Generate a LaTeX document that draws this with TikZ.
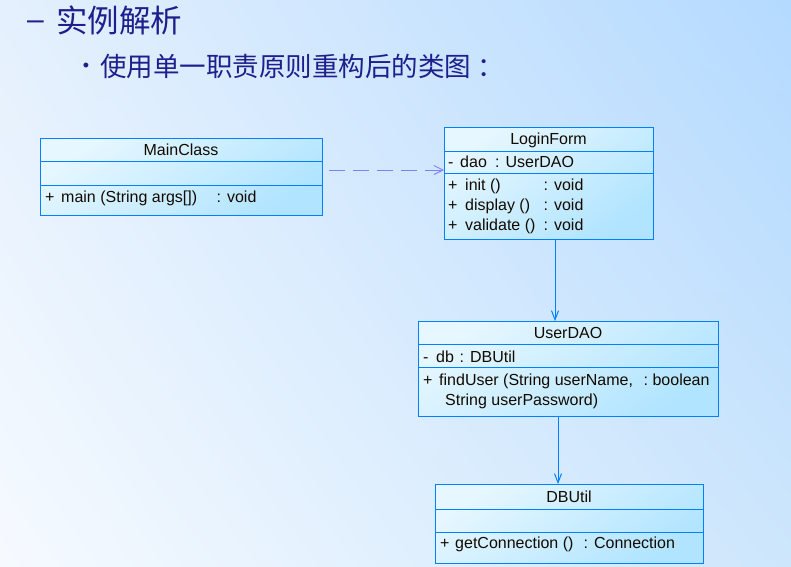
\documentclass[tikz,border=0pt]{standalone}
\usepackage{fontspec}
\setmainfont{Liberation Sans}
\newfontfamily\cjk{Noto Sans CJK SC}
\usetikzlibrary{arrows.meta,shadings}
\definecolor{bordcol}{RGB}{0,128,255}
\definecolor{dashcol}{RGB}{128,128,255}
\definecolor{headcol}{RGB}{30,30,140}
\definecolor{txtcol}{RGB}{20,10,0}
\definecolor{boxtop}{RGB}{230,247,255}
\definecolor{boxbot}{RGB}{176,228,255}
\definecolor{bgul}{RGB}{228,240,253}
\definecolor{bgll}{RGB}{246,250,255}
\definecolor{bgur}{RGB}{180,218,255}
\definecolor{bglr}{RGB}{205,230,252}
\begin{document}
\begin{tikzpicture}[x=1pt,y=-1pt,
  classbox/.style={draw=bordcol, line width=1pt, top color=boxtop, bottom color=boxbot, shading angle=35, anchor=north west, inner sep=0pt},
  divider/.style={draw=bordcol, line width=1pt},
  txt/.style={anchor=west, inner sep=0pt, text height=16pt, text depth=3pt, font=\fontsize{16}{19}\selectfont, text=txtcol},
  ctxt/.style={txt, anchor=center},
  dep/.style={draw=dashcol, line width=1pt, dash pattern=on 16pt off 8pt, -{Straight Barb[length=9pt,width=9pt]}},
  assoc/.style={draw=bordcol, line width=1pt, -{Straight Barb[length=9pt,width=7pt]}}
]
\useasboundingbox (0,0) rectangle (791,566);
\shade[upper left=bgul, lower left=bgll, upper right=bgur, lower right=bglr] (0,0) rectangle (791,566);

% headings
\node[anchor=west, inner sep=0pt, text=headcol, font=\fontsize{30}{34}\selectfont] (dash) at (27,25) {–};
\node[anchor=west, inner sep=0pt, text=headcol, font=\cjk\fontsize{31.5}{36}\selectfont] (h1) at (56,20) {实例解析};
\node[anchor=center, inner sep=0pt, text=headcol, font=\fontsize{18}{20}\selectfont] (bul) at (86,67) {•};
\node[anchor=west, inner sep=0pt, text=headcol, font=\cjk\fontsize{26.5}{30}\selectfont] (h2) at (100,66) {使用单一职责原则重构后的类图\hspace{6pt}：};

% MainClass
\node[classbox, minimum width=282pt, minimum height=77pt] (main) at (40,138) {};
\draw[divider] (40,161) -- (322,161);
\draw[divider] (40,185) -- (322,185);
\node[ctxt] (mainT) at (181,149) {MainClass};
\node[txt] (mainP) at (45,196) {+};
\node[txt] (mainO) at (61,196) {main (String args[])};
\node[txt] (mainR) at (216.5,196) {: void};

% LoginForm
\node[classbox, minimum width=209pt, minimum height=112pt] (login) at (444,127) {};
\draw[divider] (444,151) -- (653,151);
\draw[divider] (444,173) -- (653,173);
\node[ctxt] (loginT) at (548.5,138) {LoginForm};
\node[txt] (loginA1) at (448,161) {-};
\node[txt] (loginA2) at (460,161) {dao};
\node[txt] (loginA3) at (495,161) {: UserDAO};
\node[txt] (loginP1) at (448,184) {+};
\node[txt] (loginO1) at (465,184) {init ()};
\node[txt] (loginR1) at (543.5,184) {: void};
\node[txt] (loginP2) at (448,204) {+};
\node[txt] (loginO2) at (465,204) {display ()};
\node[txt] (loginR2) at (543.5,204) {: void};
\node[txt] (loginP3) at (448,224) {+};
\node[txt] (loginO3) at (465,224) {validate ()};
\node[txt] (loginR3) at (543.5,224) {: void};

% UserDAO
\node[classbox, minimum width=300pt, minimum height=95pt] (dao) at (418,321) {};
\draw[divider] (418,344) -- (718,344);
\draw[divider] (418,367) -- (718,367);
\node[ctxt] (daoT) at (568,332) {UserDAO};
\node[txt] (daoA1) at (423,356) {-};
\node[txt] (daoA2) at (436,356) {db};
\node[txt] (daoA3) at (459.5,356) {: DBUtil};
\node[txt] (daoP1) at (423,379) {+};
\node[txt] (daoO1) at (439,379) {findUser (String userName,};
\node[txt] (daoO2) at (445,399) {String userPassword)};
\node[txt] (daoR1) at (643.5,379) {:\hspace{-1.5pt} boolean};

% DBUtil
\node[classbox, minimum width=268pt, minimum height=79pt] (dbu) at (435,484) {};
\draw[divider] (435,509) -- (703,509);
\draw[divider] (435,532) -- (703,532);
\node[ctxt] (dbuT) at (569,496) {DBUtil};
\node[txt] (dbuP1) at (440,542) {+};
\node[txt] (dbuO1) at (455,542) {getConnection ()};
\node[txt] (dbuR1) at (583.5,542) {: Connection};

% connectors
\coordinate (c1) at (329,170);
\draw[dep] (c1) -- (c1 -| login.west);
\coordinate (c2) at (555,239);
\draw[assoc] (c2) -- (c2 |- dao.north);
\coordinate (c3) at (558,416);
\draw[assoc] (c3) -- (c3 |- dbu.north);
\end{tikzpicture}
\end{document}
